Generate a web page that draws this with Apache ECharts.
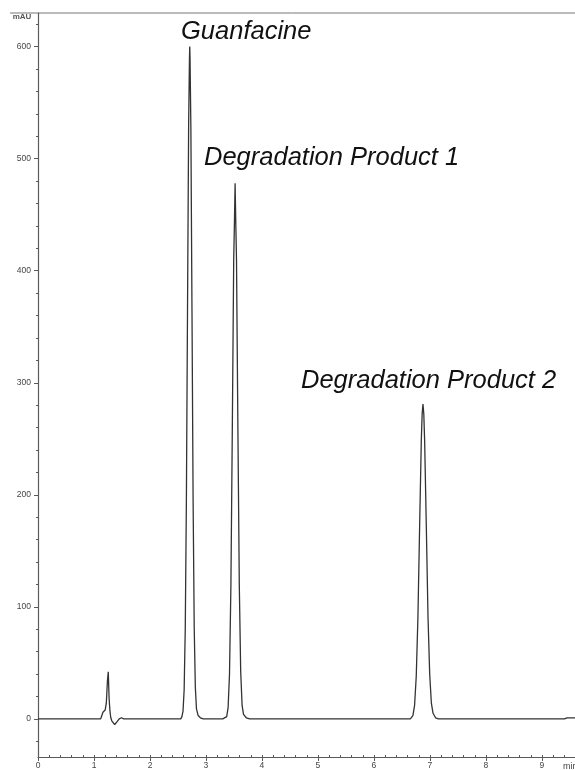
<!DOCTYPE html>
<html>
<head>
<meta charset="utf-8">
<script src="https://cdn.jsdelivr.net/npm/echarts@6/dist/echarts.min.js"></script>
<style>
    html, body { margin: 0; padding: 0; background: #fff; }
    #chromatogram { width: 575px; height: 770px; }
</style>
</head>
<body>
<div id="chromatogram"></div>
<script>
// retention time (min) and absorbance (mAU)
var times = [
    0, 1.12, 1.14, 1.16, 1.18, 1.2, 1.22, 1.24, 1.255, 1.27, 1.285, 1.3, 1.32, 1.34, 1.37, 1.39, 1.42, 1.45, 1.49, 1.53,
    2.55, 2.57, 2.59, 2.61, 2.63, 2.65, 2.67, 2.69, 2.705, 2.71, 2.715, 2.73, 2.75, 2.77, 2.79, 2.81, 2.83, 2.86, 2.9, 2.95,
    3.3, 3.37, 3.395, 3.42, 3.445, 3.47, 3.495, 3.508, 3.52, 3.532, 3.545, 3.57, 3.595, 3.62, 3.645, 3.67, 3.72, 3.78,
    6.65, 6.695, 6.725, 6.755, 6.785, 6.815, 6.845, 6.86, 6.875, 6.89, 6.905, 6.935, 6.965, 6.995, 7.025, 7.055, 7.1, 7.15,
    9.4, 9.45, 9.6
];
var absorbance = [
    0, 0, 3, 6, 5, 8, 14, 34, 42, 18, 7, 1, -2, -1, -5, -4, -2, 0, 1, 0,
    0, 2, 7, 26, 81, 195, 364, 529, 590, 600, 590, 529, 364, 195, 81, 28, 9, 3, 1, 0,
    0, 2, 10, 40, 119, 258, 410, 443, 478, 443, 410, 258, 119, 42, 12, 4, 1, 0,
    0, 3, 12, 38, 91, 171, 248, 272, 281, 272, 248, 171, 91, 40, 14, 5, 1, 0,
    0, 1, 1
];

var peakNames = ['Guanfacine', 'Degradation Product 1', 'Degradation Product 2'];

var yLabels = [0, 100, 200, 300, 400, 500, 600];
var xLabels = [0, 1, 2, 3, 4, 5, 6, 7, 8, 9];

var yMinor = [];
for (var v = -20; v <= 620; v += 20) yMinor.push(v);
var xMinor = [];
for (var k = 0; k <= 47; k++) xMinor.push(+(k * 0.2).toFixed(1));

var trace = times.map(function (t, i) { return [t, absorbance[i]]; });

var myChart = echarts.init(document.getElementById('chromatogram'));

var axisGrey = '#5a5a5a';
var labelFont = { fontFamily: 'Liberation Sans', fontSize: 8.5, color: '#444' };
var titleFont = { fontSize: 25.5, fontStyle: 'italic', fontFamily: 'Liberation Sans', fill: '#111', align: 'left', verticalAlign: 'middle' };

var option = {
    animation: false,
    grid: { left: 38, right: 0, top: 13, bottom: 12 },
    xAxis: [
        {
            type: 'value',
            min: 0,
            max: 9.59,
            axisLine: { onZero: false, lineStyle: { color: axisGrey, width: 1.2 } },
            axisTick: { customValues: xLabels, length: 4, lineStyle: { color: axisGrey } },
            axisLabel: Object.assign({ customValues: xLabels, margin: 4 }, labelFont),
            splitLine: { show: false }
        },
        {
            type: 'value',
            min: 0,
            max: 9.59,
            position: 'bottom',
            axisLine: { show: false, onZero: false },
            axisTick: { customValues: xMinor, inside: true, length: 2, lineStyle: { color: axisGrey } },
            axisLabel: { show: false },
            splitLine: { show: false }
        }
    ],
    yAxis: [
        {
            type: 'value',
            min: -34,
            max: 630,
            axisLine: { show: true, onZero: false, lineStyle: { color: axisGrey, width: 1.2 } },
            axisTick: { show: true, customValues: yLabels, length: 4, lineStyle: { color: axisGrey } },
            axisLabel: Object.assign({ customValues: yLabels, margin: 7 }, labelFont),
            splitLine: { show: false }
        },
        {
            type: 'value',
            min: -34,
            max: 630,
            position: 'left',
            axisLine: { show: false, onZero: false },
            axisTick: { show: true, customValues: yMinor, length: 2, lineStyle: { color: axisGrey } },
            axisLabel: { show: false },
            splitLine: { show: false }
        }
    ],
    series: [
        {
            type: 'line',
            data: trace,
            xAxisIndex: 0,
            yAxisIndex: 0,
            showSymbol: false,
            smooth: false,
            lineStyle: { color: '#333', width: 1.3 }
        }
    ],
    graphic: [
        { type: 'line', shape: { x1: 10, y1: 13, x2: 575, y2: 13 }, style: { stroke: '#777', lineWidth: 1 } },
        { type: 'text', x: 22, y: 17, style: { text: 'mAU', fontSize: 8, fontWeight: 'bold', fontFamily: 'Liberation Sans', fill: '#555', align: 'center', verticalAlign: 'middle' } },
        { type: 'text', x: 563, y: 767, style: { text: 'min', fontSize: 9, fontFamily: 'Liberation Sans', fill: '#444', align: 'left', verticalAlign: 'middle' } },
        { type: 'text', x: 181, y: 32, style: Object.assign({ text: peakNames[0] }, titleFont) },
        { type: 'text', x: 204, y: 158, style: Object.assign({ text: peakNames[1] }, titleFont) },
        { type: 'text', x: 301, y: 381, style: Object.assign({ text: peakNames[2] }, titleFont) }
    ]
};

myChart.setOption(option, true);
</script>
</body>
</html>
